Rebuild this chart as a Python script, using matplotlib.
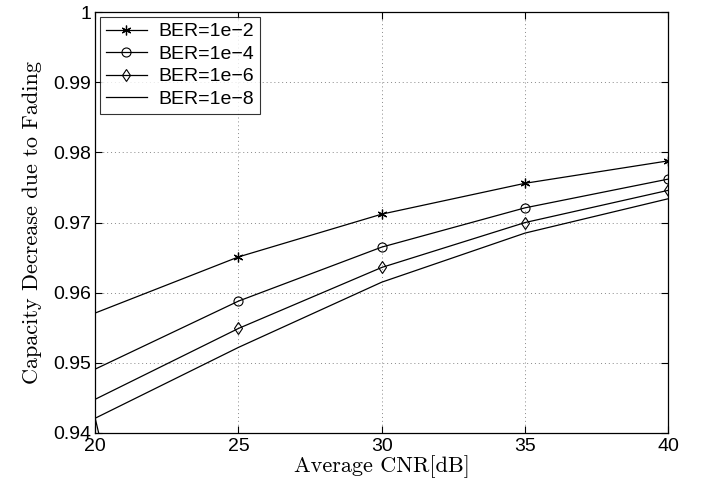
import numpy as np
import matplotlib
matplotlib.use('Agg')
import matplotlib.pyplot as plt

# dados
cnr = [20, 25, 30, 35, 40]
ber_2 = [0.9571, 0.9651, 0.9712, 0.9756, 0.9788]
ber_4 = [0.9491, 0.9588, 0.9665, 0.9721, 0.9762]
ber_6 = [0.9448, 0.9549, 0.9636, 0.9700, 0.9746]
# a curva 1e-8 desce abaixo de 0.94 logo no inicio
cnr_8 = [20.15, 20, 25, 30, 35, 40]
ber_8 = [0.9395, 0.9421, 0.9522, 0.9615, 0.9685, 0.9734]
rotulos = ['BER=1e\u22122', 'BER=1e\u22124', 'BER=1e\u22126', 'BER=1e\u22128']

yticks = [0.94, 0.95, 0.96, 0.97, 0.98, 0.99, 1.0]
ytick_labels = ['0.94', '0.95', '0.96', '0.97', '0.98', '0.99', '1']
xticks = [20, 25, 30, 35, 40]

plt.rcParams['font.family'] = ['Liberation Sans', 'DejaVu Sans']
fig = plt.figure(figsize=(7.05, 4.87), dpi=100)
ax = fig.add_axes([0.135, 0.111, 0.813, 0.864])

asterisco = (6, 2, 0)
ax.plot(cnr, ber_2, color='black', lw=0.9, marker=asterisco, ms=7, mew=0.9, markevery=[1, 2, 3, 4], label=rotulos[0])
ax.plot(cnr, ber_4, color='black', lw=0.9, marker='o', ms=6.5, mfc='none', mew=0.8, markevery=[1, 2, 3, 4], label=rotulos[1])
ax.plot(cnr, ber_6, color='black', lw=0.9, marker='d', ms=6.5, mfc='none', mew=0.8, markevery=[1, 2, 3, 4], label=rotulos[2])
ax.plot(cnr_8, ber_8, color='black', lw=0.9, label=rotulos[3])

ax.set_xlim(20, 40)
ax.set_ylim(0.94, 1.0)
ax.set_xticks(xticks)
ax.set_yticks(yticks)
ax.set_yticklabels(ytick_labels)
ax.tick_params(direction='in', labelsize=14, length=5, width=0.8, top=True, right=True, pad=3)
ax.tick_params(axis='x', pad=4)
ax.grid(True, linestyle=(0, (1, 3)), color='#888888', lw=0.7)
for s in ax.spines.values():
    s.set_linewidth(0.9)

ax.set_xlabel('Average CNR[dB]', fontfamily='cmr10', fontsize=16, labelpad=0)
ax.set_ylabel('Capacity Decrease due to Fading', fontfamily='cmr10', fontsize=16, labelpad=8)

leg = ax.legend(loc='upper left', fontsize=14, handlelength=2.1, frameon=True, fancybox=False,
                edgecolor='black', borderaxespad=0.25, labelspacing=0.25, borderpad=0.3, handletextpad=0.6)
leg.get_frame().set_linewidth(0.8)

fig.savefig('out.png', dpi=100)
